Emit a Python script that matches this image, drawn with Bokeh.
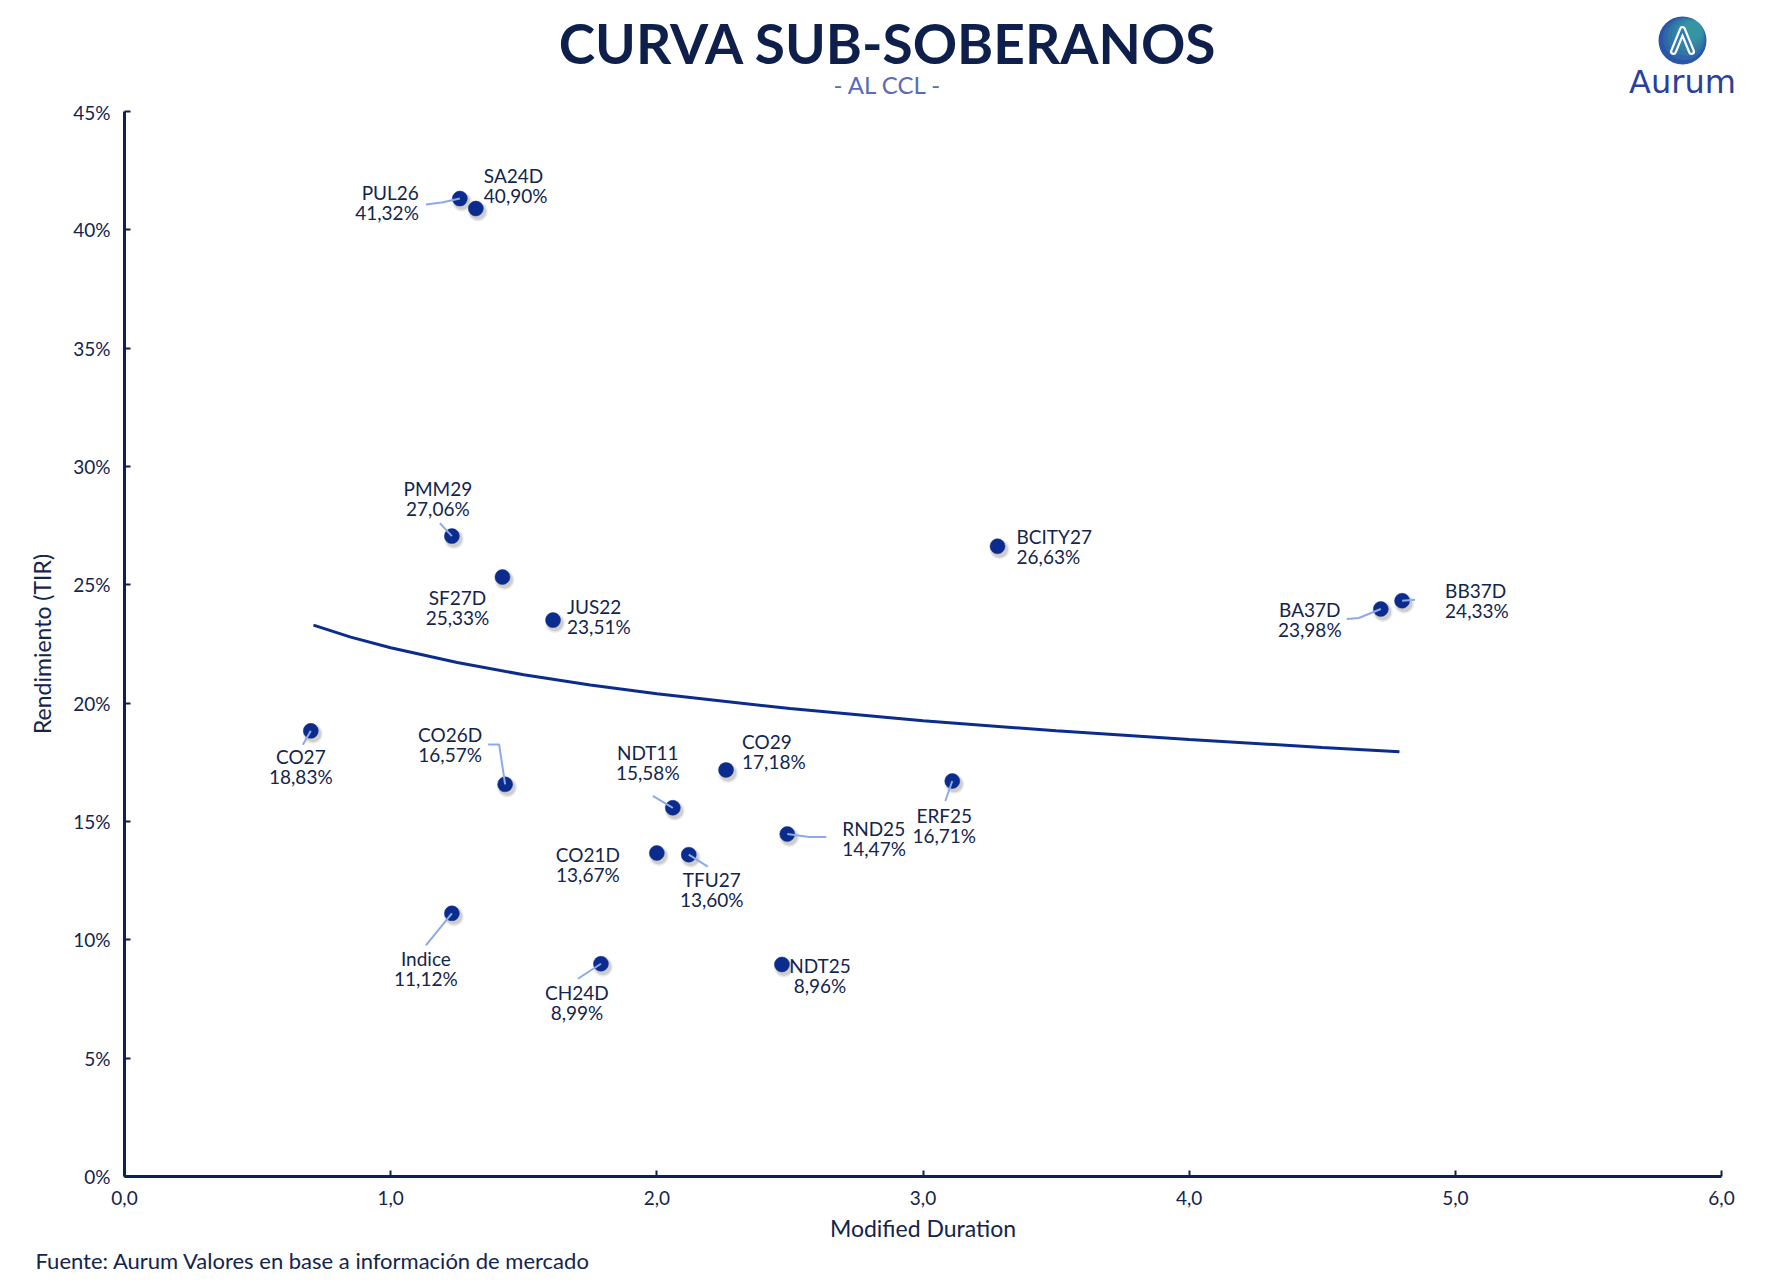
from bokeh.plotting import figure
from bokeh.layouts import column
from bokeh.models import Range1d, FixedTicker, ColumnDataSource
from bokeh.core.properties import value, field
from bokeh.embed import file_html
from bokeh.resources import INLINE

# ---------------- data ----------------
names = ["PUL26", "SA24D", "PMM29", "SF27D", "JUS22", "BCITY27", "BA37D", "BB37D",
         "CO27", "CO26D", "NDT11", "CO29", "ERF25", "RND25", "CO21D", "TFU27",
         "Indice", "CH24D", "NDT25"]
duration = [1.26, 1.32, 1.23, 1.42, 1.61, 3.28, 4.72, 4.80,
            0.70, 1.43, 2.06, 2.26, 3.11, 2.49, 2.00, 2.12,
            1.23, 1.79, 2.47]
tir = [41.32, 40.90, 27.06, 25.33, 23.51, 26.63, 23.98, 24.33,
       18.83, 16.57, 15.58, 17.18, 16.71, 14.47, 13.67, 13.60,
       11.12, 8.99, 8.96]

trend_x = [0.71, 0.85, 1.0, 1.25, 1.5, 1.75, 2.0, 2.5, 3.0, 3.5, 4.0, 4.5, 4.79]
trend_y = [23.30, 22.79, 22.34, 21.72, 21.20, 20.77, 20.40, 19.77, 19.26, 18.83, 18.46, 18.13, 17.95]

x_ticks = [0, 1, 2, 3, 4, 5, 6]
x_tick_labels = ["0,0", "1,0", "2,0", "3,0", "4,0", "5,0", "6,0"]
y_ticks = [0, 5, 10, 15, 20, 25, 30, 35, 40, 45]
y_tick_labels = ["0%", "5%", "10%", "15%", "20%", "25%", "30%", "35%", "40%", "45%"]

title_text = "CURVA SUB-SOBERANOS"
subtitle_text = "- AL CCL -"
source_text = "Fuente: Aurum Valores en base a información de mercado"
logo_text = "Aurum"

# ---------------- layout / style ----------------
W = 1775
HEAD_H, FOOT_H = 100, 44
MAIN_H = 1288 - HEAD_H - FOOT_H
L, R, T, B = 124, 54, 11, 67
X0, X1, Y0, Y1 = 0, 6, 0, 45
sx = (W - L - R) / (X1 - X0)
sy = (MAIN_H - T - B) / (Y1 - Y0)

FONT = "Lato"
NAVY = "#13244d"
AXIS = "#0c2250"
DOT = "#0b2c8c"
LEADER = "#8ea9ea"
LABEL_SIZE = "19px"

# label placement: name -> (dx px, dy px of first line (screen, down +), align)
label_pos = {
    "PUL26": (-41, -6, "right"), "SA24D": (8, -33, "left"), "PMM29": (-14, -48, "center"),
    "SF27D": (-45, 20, "center"), "JUS22": (14, -14, "left"), "BCITY27": (19, -10, "left"),
    "BA37D": (-71, 1, "center"), "BB37D": (43, -10, "left"), "CO27": (-10, 26, "center"),
    "CO26D": (-55, -50, "center"), "NDT11": (-25, -55, "center"), "CO29": (16, -28, "left"),
    "ERF25": (-8, 34, "center"), "RND25": (55, -6, "left"), "CO21D": (-69, 2, "center"),
    "TFU27": (23, 25, "center"), "Indice": (-26, 45, "center"), "CH24D": (-24, 29, "center"),
    "NDT25": (38, 1, "center"),
}
LINE_GAP = 20

# leader lines: name -> list of pixel offsets from the dot
leaders = {
    "PUL26": [(0, 0), (-18, 4), (-34, 6)],
    "PMM29": [(0, 0), (-12, -13)],
    "BA37D": [(0, 0), (-22, 9), (-34, 10)],
    "BB37D": [(0, 0), (13, -1)],
    "CO27": [(0, 0), (-8, 14)],
    "CO26D": [(0, 0), (-6, -40), (-17, -40)],
    "NDT11": [(0, 0), (-20, -12)],
    "ERF25": [(0, 0), (-7, 20)],
    "RND25": [(0, 0), (22, 3), (39, 3)],
    "TFU27": [(0, 0), (19, 12)],
    "Indice": [(0, 0), (-26, 32)],
    "CH24D": [(0, 0), (-23, 15)],
}


def blank(h):
    f = figure(width=W, height=h, output_backend="svg", toolbar_location=None,
               x_range=Range1d(0, W), y_range=Range1d(h, 0),
               x_axis_location=None, y_axis_location=None,
               min_border=0, min_border_left=0, min_border_right=0,
               min_border_top=0, min_border_bottom=0)
    f.frame_align = False
    f.outline_line_color = None
    f.grid.visible = False
    f.background_fill_color = "white"
    f.border_fill_color = "white"
    return f


# ---------------- header ----------------
head = blank(HEAD_H)
head.text([W / 2], [42], text=[title_text], text_align="center", text_baseline="middle",
          text_font=value(FONT), text_font_size="55px", text_font_style="bold",
          text_color="#0d1f4a")
head.text([W / 2], [84], text=[subtitle_text], text_align="center", text_baseline="middle",
          text_font=value(FONT), text_font_size="24px", text_color="#5a6bb8")
cx, cy, rad = 1682, 40, 24
head.scatter([cx], [cy], size=2 * rad, fill_color="#2b55a8", line_color=None)
for k in range(1, 7):
    d = k * 2.6
    head.scatter([cx + d * 0.7], [cy - d * 0.7], size=2 * (rad - d),
                 fill_color="#3aa9a2", fill_alpha=0.22, line_color=None)
head.line([cx - 9, cx, cx + 9], [cy + 11, cy - 11, cy + 11], line_color="white",
          line_width=7, line_join="round", line_cap="round")
head.line([cx - 9, cx, cx + 9], [cy + 11, cy - 11, cy + 11], line_color="#2f7aae",
          line_width=2.5, line_join="round", line_cap="round")
head.text([cx], [81], text=[logo_text], text_align="center", text_baseline="middle",
          text_font=value("DejaVu Sans"), text_font_size="32px", text_color="#2a3f9e")

# ---------------- main chart ----------------
p = figure(width=W, height=MAIN_H, output_backend="svg", toolbar_location=None,
           x_range=Range1d(X0, X1), y_range=Range1d(Y0, Y1),
           min_border_left=L, min_border_right=R, min_border_top=T, min_border_bottom=B)
p.frame_align = False
p.outline_line_color = None
p.xgrid.grid_line_color = None
p.ygrid.grid_line_color = None
p.background_fill_color = "white"
p.border_fill_color = "white"

for ax in (p.xaxis[0], p.yaxis[0]):
    ax.axis_line_color = AXIS
    ax.axis_line_width = 3
    ax.major_tick_line_color = AXIS
    ax.major_tick_line_width = 2
    ax.major_tick_in = 6
    ax.major_tick_out = 0
    ax.minor_tick_line_color = None
    ax.major_label_text_font = FONT
    ax.major_label_text_font_size = "19px"
    ax.major_label_text_color = NAVY
    ax.axis_label_text_font = FONT
    ax.axis_label_text_font_style = "normal"
    ax.axis_label_text_font_size = "23px"
    ax.axis_label_text_color = NAVY

p.xaxis.ticker = FixedTicker(ticks=x_ticks)
p.xaxis.major_label_overrides = {t: s for t, s in zip(x_ticks, x_tick_labels)}
p.yaxis.ticker = FixedTicker(ticks=y_ticks)
p.yaxis.major_label_overrides = {t: s for t, s in zip(y_ticks, y_tick_labels)}
p.xaxis.axis_label = "Modified Duration"
p.yaxis.axis_label = "Rendimiento (TIR)"
p.xaxis.major_label_standoff = 14
p.xaxis.axis_label_standoff = 6
p.yaxis.major_label_standoff = 14
p.yaxis.axis_label_standoff = 14

# trend curve
p.line(trend_x, trend_y, line_color=DOT, line_width=3)

# dot shadows
for k, a in ((20, 0.08), (17, 0.12)):
    p.scatter([d + 2 / sx for d in duration], [v - 3 / sy for v in tir],
              size=k, fill_color="#000000", fill_alpha=a, line_color=None)
# dots
p.scatter(duration, tir, size=15, fill_color=DOT, line_color=DOT, line_width=0.5)

# leader lines
lx, ly = [], []
for n, pts in leaders.items():
    i = names.index(n)
    lx.append([duration[i] + dx / sx for dx, dy in pts])
    ly.append([tir[i] - dy / sy for dx, dy in pts])
p.multi_line(lx, ly, line_color=LEADER, line_width=2)

# labels
src = ColumnDataSource(dict(
    x=duration, y=tir, name=names,
    val=[("%.2f" % v).replace(".", ",") + "%" for v in tir],
    dx=[label_pos[n][0] for n in names],
    dy1=[label_pos[n][1] for n in names],
    dy2=[label_pos[n][1] + LINE_GAP for n in names],
    align=[label_pos[n][2] for n in names],
))
for col, dyc in (("name", "dy1"), ("val", "dy2")):
    p.text(x="x", y="y", text=field(col), source=src, x_offset=field("dx"), y_offset=field(dyc),
           text_align=field("align"), text_baseline="middle",
           text_font=value(FONT), text_font_size=LABEL_SIZE, text_color=NAVY)

# ---------------- footer ----------------
foot = blank(FOOT_H)
foot.text([35], [16], text=[source_text], text_align="left", text_baseline="middle",
          text_font=value(FONT), text_font_size="22px", text_color=NAVY)

layout = column(head, p, foot, spacing=0)
open("out.html", "w").write(file_html(layout, INLINE))
